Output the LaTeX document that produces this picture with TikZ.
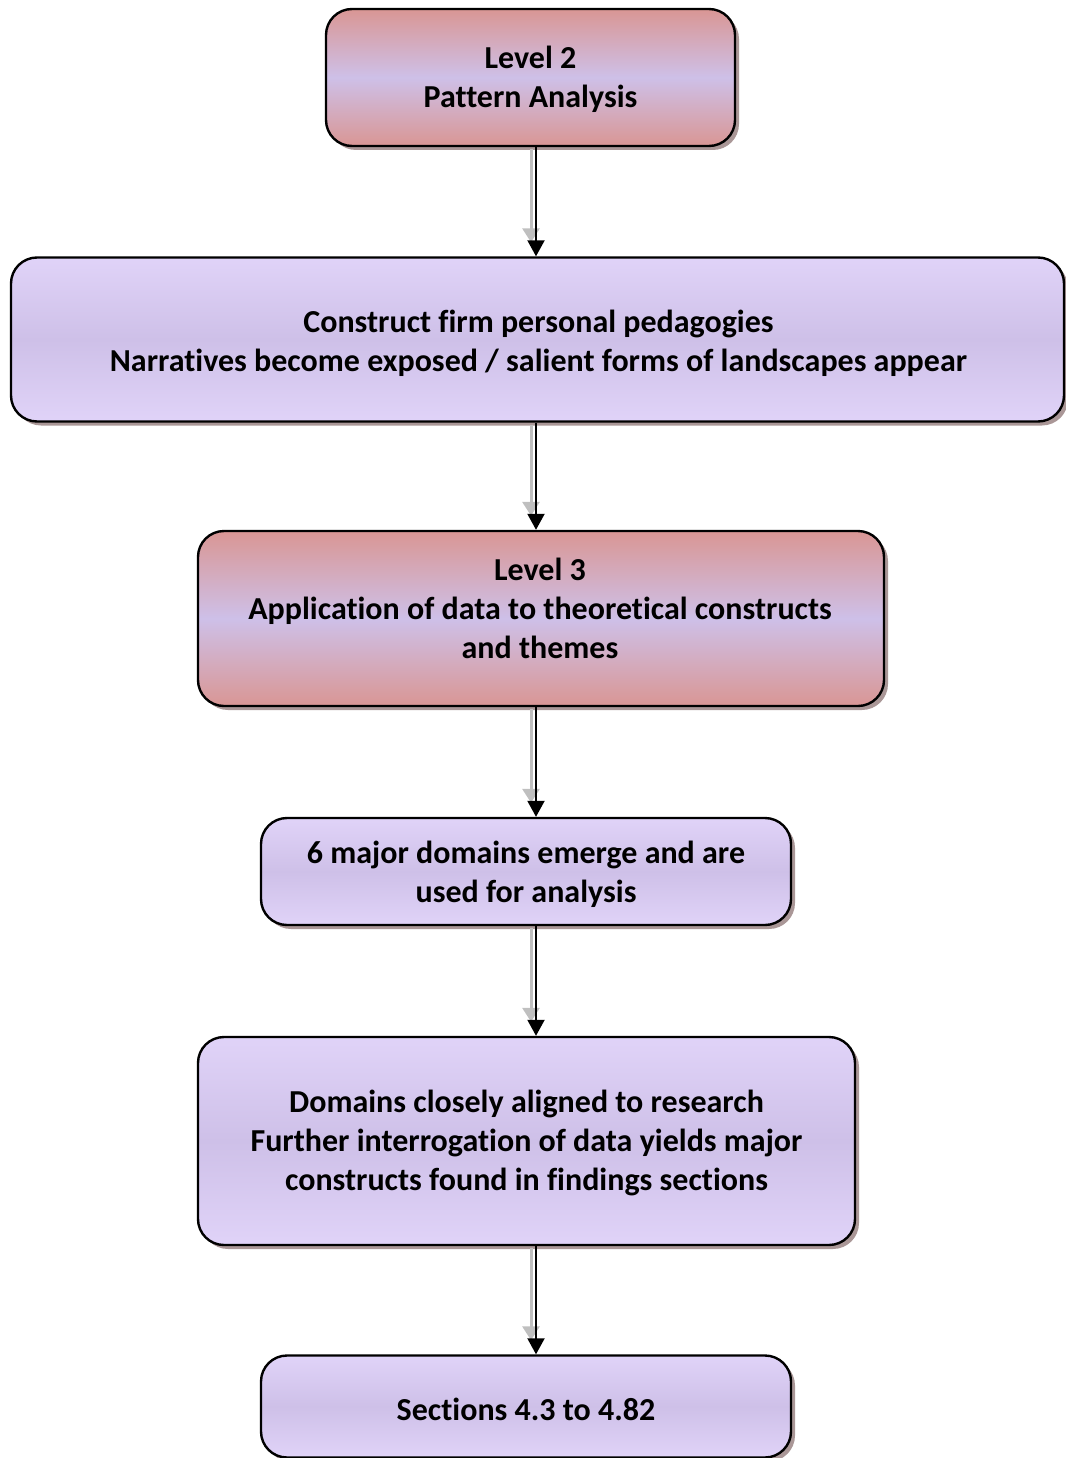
\documentclass[tikz,border=0pt]{standalone}
\usepackage{fontspec}
\setmainfont{Carlito}[Ligatures=NoCommon]
\usetikzlibrary{shadows,arrows.meta}
\definecolor{rosy}{HTML}{D99694}
\definecolor{lilac}{HTML}{CEC0E8}
\definecolor{lilaclight}{HTML}{E0D3F8}
\definecolor{shade}{HTML}{8E7474}
\tikzset{
  x=1pt, y=1pt,
  box/.style={draw=black, line width=2.4pt, rounded corners=26pt, inner sep=0pt,
    drop shadow={shadow xshift=4pt, shadow yshift=-4pt, fill=shade, opacity=0.75}},
  levelbox/.style={box, top color=rosy, bottom color=rosy, middle color=lilac},
  plainbox/.style={box, top color=lilaclight, bottom color=lilaclight, middle color=lilac},
  boxtext/.style={align=center, inner sep=0pt,
    font=\fontsize{32}{39}\selectfont\bfseries},
  flow/.style={line width=2pt, -{Triangle[length=16pt,width=17pt]}},
  flowghost/.style={line width=3pt, draw=black!25, -{Triangle[length=14pt,width=17pt, fill=black!25]}},
}
\begin{document}
\begin{tikzpicture}
\useasboundingbox (0,0) rectangle (1065,-1458);

% boxes
\node[levelbox, minimum width=409pt, minimum height=137pt] (lvltwo) at (530.5,-77.5) {};
\node[plainbox, minimum width=1053pt, minimum height=164pt] (pedag) at (537.5,-339.5) {};
\node[levelbox, minimum width=686pt, minimum height=175pt] (lvlthree) at (541,-618.5) {};
\node[plainbox, minimum width=530pt, minimum height=107pt] (domains) at (526,-871.5) {};
\node[plainbox, minimum width=657pt, minimum height=208pt] (aligned) at (526.5,-1141) {};
\node[plainbox, minimum width=530pt, minimum height=102pt] (sections) at (526,-1406.5) {};

% box texts
\node[boxtext] (lvltwotxt) at ([yshift=-2pt]lvltwo.center) {Level 2\\Pattern Analysis};
\node[boxtext] (pedagtxt) at ([xshift=1pt,yshift=-4pt]pedag.center)
  {Construct firm personal pedagogies\\Narratives become exposed / salient forms of landscapes appear};
\node[boxtext] (lvlthreetxt) at ([xshift=-1pt,yshift=10pt]lvlthree.center)
  {Level 3\\Application of data to theoretical constructs\\and themes};
\node[boxtext] (domainstxt) at ([yshift=-3pt]domains.center) {6 major domains emerge and are\\used for analysis};
\node[boxtext] (alignedtxt) at ([yshift=-2pt]aligned.center)
  {Domains closely aligned to research\\Further interrogation of data yields major\\constructs found in findings sections};
\node[boxtext] (sectionstxt) at ([yshift=-3pt]sections.center) {Sections 4.3 to 4.82};

% vertical line on which the connectors run, and its faint offset twin
\coordinate (col) at (536,0);
\coordinate (ghost) at (531,0);

\foreach \a/\b in {lvltwo/pedag, pedag/lvlthree, lvlthree/domains, domains/aligned, aligned/sections}{
  \draw[flowghost] ([yshift=-2pt]\a.south -| ghost) -- ([yshift=14pt]\b.north -| ghost);
  \draw[flow] (\a.south -| col) -- (\b.north -| col);
}
\end{tikzpicture}
\end{document}
